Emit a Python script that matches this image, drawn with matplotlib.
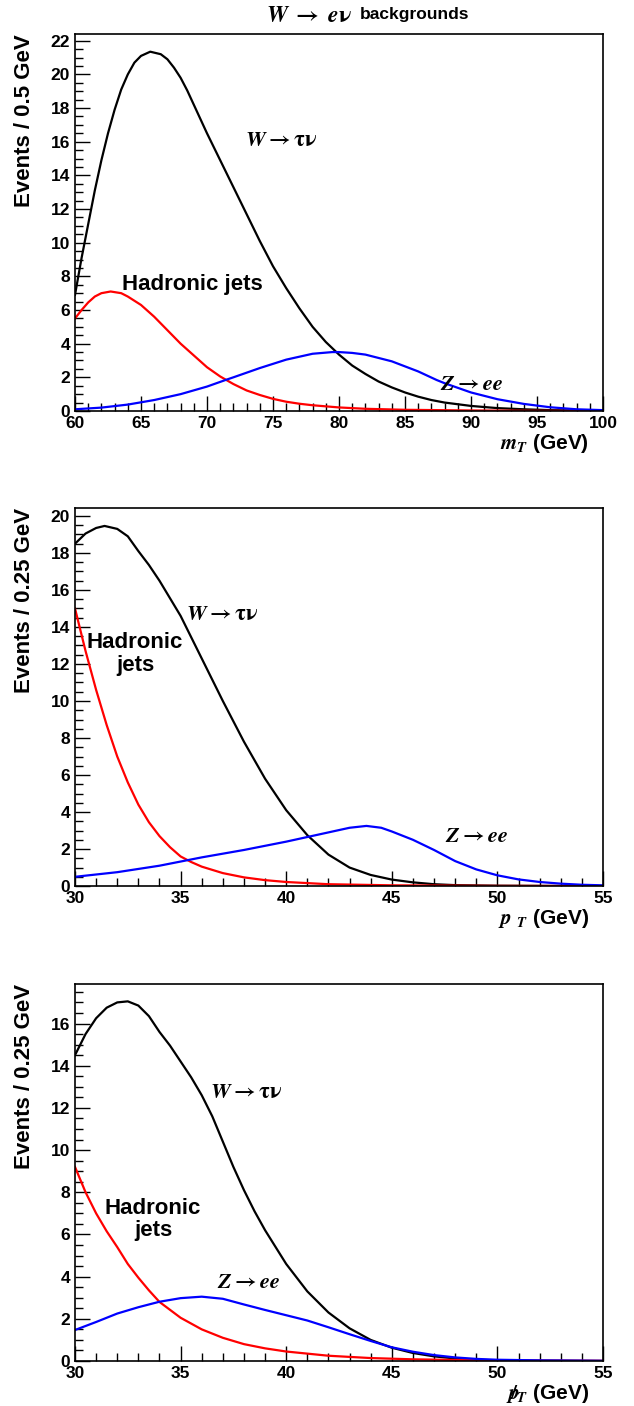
import matplotlib
matplotlib.use('Agg')
import matplotlib.pyplot as plt
from matplotlib.ticker import MultipleLocator

plt.rcParams['font.family'] = ['Liberation Sans', 'DejaVu Sans']
plt.rcParams['font.weight'] = 'bold'
plt.rcParams['mathtext.fontset'] = 'stix'

# transverse mass panel
mt_wtau_x = [60, 60.5, 61, 61.5, 62, 62.5, 63, 63.5, 64, 64.5, 65, 65.7, 66.5, 67, 67.5, 68,
             68.5, 69, 70, 71, 72, 73, 74, 75, 76, 77, 78, 79, 80, 81, 82, 83, 84, 85, 86, 87,
             88, 90, 92, 94, 96, 98, 100]
mt_wtau_y = [6.9, 9.1, 11.1, 13.1, 14.9, 16.5, 17.9, 19.1, 20.0, 20.7, 21.1, 21.35, 21.2, 20.9,
             20.4, 19.8, 19.05, 18.2, 16.5, 14.9, 13.3, 11.7, 10.1, 8.6, 7.3, 6.1, 5.0, 4.1,
             3.35, 2.7, 2.2, 1.75, 1.4, 1.1, 0.85, 0.65, 0.5, 0.3, 0.17, 0.1, 0.05, 0.03, 0.01]
mt_jets_x = [60, 60.5, 61, 61.5, 62, 62.7, 63.5, 64, 65, 66, 67, 68, 69, 70, 71, 72, 73, 74, 75,
             76, 77, 78, 80, 82, 85, 90, 95, 100]
mt_jets_y = [5.5, 6.0, 6.45, 6.8, 7.0, 7.1, 7.0, 6.8, 6.3, 5.6, 4.8, 4.0, 3.3, 2.6, 2.05, 1.6,
             1.22, 0.95, 0.72, 0.55, 0.43, 0.34, 0.21, 0.13, 0.07, 0.03, 0.01, 0.0]
mt_zee_x = [60, 62, 64, 66, 68, 70, 71.4, 72, 74, 76, 78, 79.5, 80, 81, 82, 84, 86, 87.4, 88, 90,
            92, 94, 96, 98, 100]
mt_zee_y = [0.1, 0.2, 0.38, 0.65, 1.0, 1.45, 1.84, 2.0, 2.55, 3.05, 3.4, 3.5, 3.5, 3.45, 3.35,
            2.95, 2.35, 1.84, 1.65, 1.1, 0.7, 0.42, 0.22, 0.1, 0.05]

# lepton pT panel
pt_wtau_x = [30, 30.5, 31, 31.4, 32, 32.5, 33, 33.5, 34, 35, 36, 37, 38, 39, 40, 41, 42, 43, 44,
             45, 46, 47, 48, 50, 52, 55]
pt_wtau_y = [18.5, 19.05, 19.35, 19.46, 19.3, 18.9, 18.1, 17.35, 16.5, 14.6, 12.3, 10.0, 7.8,
             5.8, 4.1, 2.75, 1.7, 1.0, 0.6, 0.35, 0.2, 0.1, 0.05, 0.02, 0.01, 0.0]
pt_jets_x = [30, 30.5, 31, 31.5, 32, 32.5, 33, 33.5, 34, 34.5, 35, 35.5, 36, 37, 38, 39, 40, 42,
             45, 50, 55]
pt_jets_y = [15.0, 12.7, 10.6, 8.7, 7.0, 5.6, 4.4, 3.45, 2.7, 2.1, 1.6, 1.3, 1.05, 0.7, 0.47,
             0.32, 0.22, 0.1, 0.04, 0.01, 0.0]
pt_zee_x = [30, 32, 34, 36, 38, 40, 41, 42, 43, 43.8, 44.5, 45, 46, 47, 48, 49, 50, 51, 52, 53,
            54, 55]
pt_zee_y = [0.5, 0.75, 1.1, 1.55, 1.95, 2.4, 2.65, 2.9, 3.15, 3.25, 3.15, 2.95, 2.5, 1.95, 1.35,
            0.9, 0.58, 0.36, 0.22, 0.13, 0.07, 0.04]

# missing ET panel
met_wtau_x = [30, 30.5, 31, 31.5, 32, 32.5, 33, 33.5, 34, 34.5, 35, 35.5, 36, 36.5, 37, 37.5, 38,
              38.5, 39, 39.5, 40, 41, 42, 43, 44, 45, 46, 47, 48, 49, 50, 52, 55]
met_wtau_y = [14.5, 15.5, 16.25, 16.75, 17.0, 17.05, 16.85, 16.35, 15.6, 14.95, 14.2, 13.45,
              12.6, 11.6, 10.4, 9.2, 8.1, 7.1, 6.2, 5.4, 4.6, 3.3, 2.3, 1.55, 1.0, 0.63, 0.38,
              0.22, 0.12, 0.06, 0.03, 0.01, 0.0]
met_jets_x = [30, 30.5, 31, 31.5, 32, 32.5, 33, 33.5, 34, 35, 36, 37, 38, 39, 40, 42, 44, 46, 48,
              50, 55]
met_jets_y = [9.2, 8.0, 7.0, 6.15, 5.4, 4.6, 3.95, 3.35, 2.8, 2.05, 1.5, 1.1, 0.8, 0.6, 0.45,
              0.25, 0.14, 0.08, 0.05, 0.03, 0.01]
met_zee_x = [30, 31, 32, 33, 34, 35, 36, 37, 38, 39, 40, 41, 42, 43, 44, 45, 46, 47, 48, 49, 50,
             52, 55]
met_zee_y = [1.47, 1.85, 2.25, 2.55, 2.81, 2.98, 3.05, 2.95, 2.68, 2.42, 2.17, 1.92, 1.6, 1.27,
             0.95, 0.65, 0.44, 0.28, 0.17, 0.1, 0.06, 0.03, 0.01]

W_TAU = r'$W\rightarrow\mathrm{\tau\nu}$'
Z_EE = r'$Z\rightarrow ee$'


def setup_axes(ax, xlim, ylim, ylabel, xlabel):
    ax.set_xlim(*xlim)
    ax.set_ylim(*ylim)
    ax.xaxis.set_major_locator(MultipleLocator(5))
    ax.xaxis.set_minor_locator(MultipleLocator(1))
    ax.yaxis.set_major_locator(MultipleLocator(2))
    ax.yaxis.set_minor_locator(MultipleLocator(0.5))
    ax.tick_params(which='both', direction='in', top=False, right=False,
                   labelsize=12.5, width=1.0)
    ax.tick_params(which='major', length=11)
    ax.tick_params(which='minor', length=6)
    for s in ax.spines.values():
        s.set_linewidth(1.2)
    ax.text(-0.095, 1.0, ylabel, transform=ax.transAxes, rotation=90,
            ha='center', va='top', fontsize=16, fontweight='bold')
    ax.text(0.9735, -0.085, xlabel, transform=ax.transAxes, ha='right',
            va='center', fontsize=15, fontweight='bold')


fig = plt.figure(figsize=(6.34, 14.06), dpi=100)

ax1 = fig.add_axes([0.1183, 0.7077, 0.8328, 0.2681])
ax1.plot(mt_wtau_x, mt_wtau_y, color='black', lw=1.6)
ax1.plot(mt_jets_x, mt_jets_y, color='red', lw=1.6)
ax1.plot(mt_zee_x, mt_zee_y, color='blue', lw=1.6)
setup_axes(ax1, (60, 100), (0, 22.4), 'Events / 0.5 GeV', r'$m_T$ (GeV)')
ax1.text(72.9, 16.1, W_TAU, fontsize=16, va='center')
ax1.text(68.9, 7.5, 'Hadronic jets', fontsize=16, ha='center', va='center')
ax1.text(87.65, 1.55, Z_EE, fontsize=16, va='center')

ax2 = fig.add_axes([0.1183, 0.3698, 0.8328, 0.2689])
ax2.plot(pt_wtau_x, pt_wtau_y, color='black', lw=1.6)
ax2.plot(pt_jets_x, pt_jets_y, color='red', lw=1.6)
ax2.plot(pt_zee_x, pt_zee_y, color='blue', lw=1.6)
setup_axes(ax2, (30, 55), (0, 20.43), 'Events / 0.25 GeV', r'$p\ _T$ (GeV)')
ax2.text(35.25, 14.65, W_TAU, fontsize=16, va='center')
ax2.text(32.84, 12.55, 'Hadronic\njets', fontsize=16, ha='center', va='center',
         multialignment='center', linespacing=1.1)
ax2.text(47.5, 2.7, Z_EE, fontsize=16, va='center')

ax3 = fig.add_axes([0.1183, 0.0320, 0.8328, 0.2681])
ax3.plot(met_wtau_x, met_wtau_y, color='black', lw=1.6)
ax3.plot(met_jets_x, met_jets_y, color='red', lw=1.6)
ax3.plot(met_zee_x, met_zee_y, color='blue', lw=1.6)
setup_axes(ax3, (30, 55), (0, 17.87), 'Events / 0.25 GeV', r'$p\!\!\!/_T$ (GeV)')
ax3.text(36.4, 12.75, W_TAU, fontsize=16, va='center')
ax3.text(33.7, 6.7, 'Hadronic\njets', fontsize=16, ha='center', va='center',
         multialignment='center', linespacing=1.1)
ax3.text(36.7, 3.7, Z_EE, fontsize=16, va='center')

fig.text(352 / 634, 1 - 15 / 1406, r'$W\;\rightarrow\; e\mathrm{\nu}$',
         ha='right', va='center', fontsize=17)
fig.text(360 / 634, 1 - 15 / 1406, 'backgrounds',
         ha='left', va='center', fontsize=12.5, fontweight='bold')

fig.savefig('out.png', dpi=100)
